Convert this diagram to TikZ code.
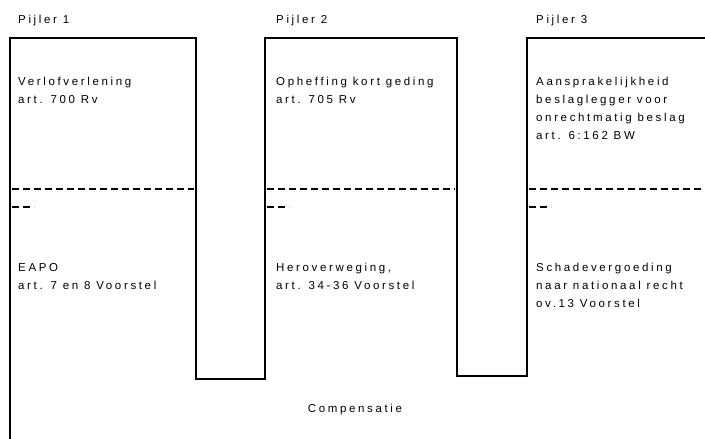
\documentclass[tikz,border=0pt]{standalone}
\usepackage{fontspec}
\setmainfont[LetterSpace=23]{Liberation Sans}
\usepackage{tikz}
\usetikzlibrary{arrows}

\begin{document}
\begin{tikzpicture}[x=1pt,y=-1pt,
    pillar/.style={line width=1.3pt,line join=miter},
    dashline/.style={line width=1.5pt,dash pattern=on 7pt off 4pt},
    txt/.style={anchor=north west,inner sep=0pt,align=left,
      font=\fontsize{11.5}{18}\selectfont}]
                \useasboundingbox (0,0) rectangle (705,439);
                % The three pillars, joined at the bottom
                \draw[pillar] (10,439) -- (10,38) -- (196,38) -- (196,379)
                  -- (265,379) -- (265,38) -- (457,38) -- (457,376)
                  -- (527,376) -- (527,38) -- (705,38);
                % The dashed separators
                \foreach \xa/\xb in {12/194,267/455,529/705}
                {
                  \draw[dashline] (\xa,189) -- (\xb,189);
                  \draw[dashline] (\xa,207) -- (\xa+22,207);
                }
                % The headings
                \node[txt] (kop1) at (18,15) {Pijler 1};
                \node[txt] (kop2) at (276,15) {Pijler 2};
                \node[txt] (kop3) at (536,15) {Pijler 3};
                % The national remedies
                \node[txt] (nat1) at (18,77) {Verlofverlening\\art. 700 Rv};
                \node[txt] (nat2) at (276,77) {Opheffing kort geding\\art. 705 Rv};
                \node[txt] (nat3) at (536,77) {Aansprakelijkheid\\beslaglegger voor\\onrechtmatig beslag\\art. 6:162 BW};
                % The remedies of the proposal
                \node[txt] (eu1) at (18,263) {EAPO\\art. 7 en 8 Voorstel};
                \node[txt] (eu2) at (276,263) {Heroverweging,\\art. 34-36 Voorstel};
                \node[txt] (eu3) at (536,263) {Schadevergoeding\\naar nationaal recht\\ov.13 Voorstel};
                \node[txt,anchor=north] (comp) at (355,404) {Compensatie};
\end{tikzpicture}
\end{document}
